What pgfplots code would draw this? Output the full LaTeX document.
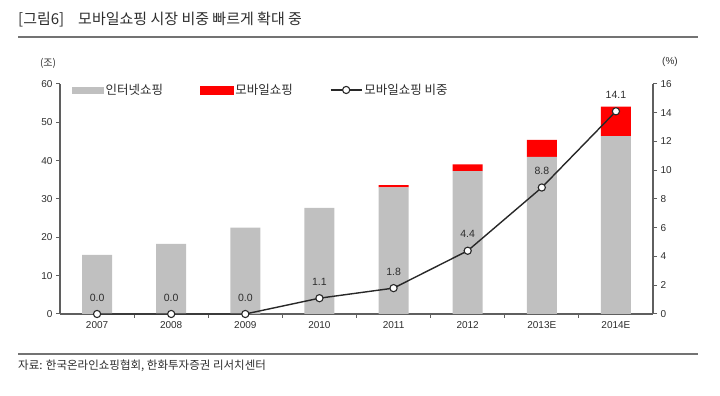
\documentclass[border=0pt]{standalone}
\usepackage{pgfplots}
\pgfplotsset{compat=1.18}
\usepackage{fontspec}
\setmainfont{Liberation Sans}
\newfontfamily\kr{Noto Sans CJK KR}
\definecolor{bargray}{RGB}{192,192,192}
\definecolor{barred}{RGB}{255,0,0}
\definecolor{axgray}{RGB}{95,95,95}
\definecolor{txt}{RGB}{45,45,45}
\definecolor{linecol}{RGB}{40,40,40}
\definecolor{rulegray}{RGB}{115,115,115}
\pgfplotsset{
  mylegline/.style={legend image code/.code={\draw[mark repeat=2,mark phase=2,##1] plot coordinates {(0pt,0pt) (15.5pt,0pt) (31pt,0pt)};}},
  common/.style={
    at={(60pt,82pt)}, anchor=south west,
    scale only axis, width=593pt, height=230pt,
    xmin=-0.5, xmax=7.5,
    tick align=outside, major tick length=4pt, minor tick length=4pt,
    axis line style={axgray, line width=1.6pt, -},
    tick style={axgray, line width=1pt},
    ticklabel style={font=\fontsize{10}{12}\selectfont, text=txt},
    /pgf/number format/assume math mode=true,
    enlargelimits=false, clip=false,
  }
}
\begin{document}
\begin{tikzpicture}
\useasboundingbox (0,0) rectangle (720pt,396pt);
\begin{axis}[common,
  ybar stacked, bar width=30pt,
  ymin=0, ymax=60,
  axis y line*=left, axis x line*=bottom,
  xtick={0,...,7}, xticklabels={2007,2008,2009,2010,2011,2012,2013E,2014E},
  major x tick style={draw=none},
  minor xtick={0.5,1.5,...,6.5},
  ytick={0,10,...,60},
]
\addplot[fill=bargray, draw=none] coordinates {(0,15.4) (1,18.3) (2,22.5) (3,27.7) (4,33.0) (5,37.3) (6,41.0) (7,46.4)};
\addplot[fill=barred, draw=none] coordinates {(0,0) (1,0) (2,0) (3,0) (4,0.6) (5,1.7) (6,4.4) (7,7.7)};
\end{axis}
\begin{axis}[common,
  ymin=0, ymax=16,
  axis y line*=right, axis x line=none,
  ytick={0,2,...,16},
  legend style={at={(0.0202,0.974)}, anchor=west, draw=none, fill=none, inner sep=0pt,
    font=\kr\fontsize{12.5}{14}\selectfont, text=txt, legend columns=3,
    /tikz/every even column/.append style={column sep=35pt}},
]
\addlegendimage{legend image code/.code={\fill[bargray] (0pt,-3pt) rectangle (31pt,3pt);}}
\addlegendentry{인터넷쇼핑}
\addlegendimage{legend image code/.code={\fill[barred] (0pt,-4pt) rectangle (33pt,4pt);}}
\addlegendentry{모바일쇼핑}
\addplot[mylegline, color=linecol, line width=1.4pt, mark=*, mark size=3.6pt,
  mark options={fill=white, draw=linecol, line width=1.1pt},
  nodes near coords, every node near coord/.append style={font=\fontsize{10.5}{12}\selectfont, text=txt, yshift=9pt},
  /pgf/number format/.cd, fixed, fixed zerofill, precision=1]
  coordinates {(0,0) (1,0) (2,0) (3,1.1) (4,1.8) (5,4.4) (6,8.8) (7,14.1)};
\addlegendentry{모바일쇼핑 비중}
\end{axis}
\node[font=\kr\fontsize{10}{12}\selectfont, text=txt] at (48pt,333pt) {(조)};
\node[font=\fontsize{10}{12}\selectfont, text=txt] at (670pt,334pt) {(\%)};
\node[anchor=base west, inner sep=0pt, font=\kr\fontsize{15}{17}\selectfont, text=txt] at (18pt,371pt) {[그림6]};
\node[anchor=base west, inner sep=0pt, font=\kr\fontsize{15}{17}\selectfont, text=txt] at (78pt,371pt) {모바일쇼핑 시장 비중 빠르게 확대 중};
\draw[rulegray, line width=2pt] (18pt,359pt) -- (698pt,359pt);
\draw[rulegray, line width=2pt] (18pt,42pt) -- (698pt,42pt);
\node[anchor=base west, inner sep=0pt, font=\kr\fontsize{11.5}{13}\selectfont, text=txt] at (18pt,26pt) {자료: 한국온라인쇼핑협회, 한화투자증권 리서치센터};
\end{tikzpicture}
\end{document}
